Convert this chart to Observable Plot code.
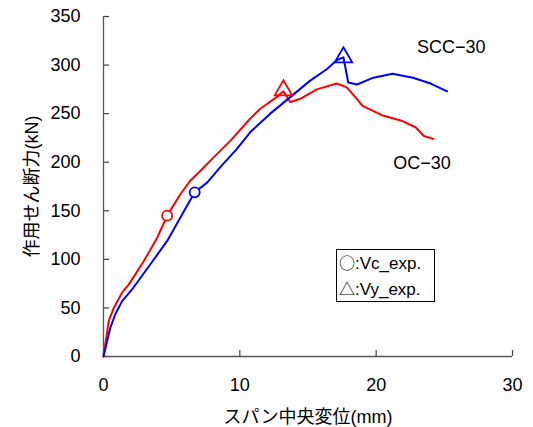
<!DOCTYPE html>
<html>
<head>
<meta charset="utf-8">
<script src="https://cdn.jsdelivr.net/npm/d3@7"></script>
<script src="https://cdn.jsdelivr.net/npm/@observablehq/plot@0.6"></script>
<style>
  html, body { margin: 0; padding: 0; background: #fff; }
  #wrap { position: relative; width: 533px; height: 427px; font-family: "Liberation Sans", "Noto Sans CJK JP", sans-serif; }
  #legend { position: absolute; left: 336px; top: 249px; width: 99px; height: 53px; border: 1.3px solid #000; box-sizing: border-box; font-size: 17px; line-height: 25px; padding-left: 2px; color: #000; }
  #legend div { white-space: nowrap; }
  #legend .sym { font-family: "Noto Sans CJK JP", sans-serif; font-size: 16px; }
</style>
</head>
<body>
<div id="wrap">
  <div id="chart"></div>
  <div id="legend"><div><span class="sym">○</span>:Vc_exp.</div><div><span class="sym">△</span>:Vy_exp.</div></div>
</div>
<script>
// SCC-30 (blue)
const sccX = [0, 0.51, 0.88, 1.37, 2.2, 3.44, 4.67, 5.64, 6.69, 7.6, 8.57, 9.8, 10.77, 12.23, 13.7, 15.16, 16.4, 17.1, 17.6, 17.95, 18.6, 19.8, 21.2, 22.7, 24.0, 25.2];
const sccY = [0, 30, 44, 57, 71, 95, 119, 143, 169, 179, 195, 214, 231, 250, 267, 284, 296, 305, 308, 282, 280, 287, 291, 287, 281, 273];
// OC-30 (red)
const ocX = [0, 0.39, 0.76, 1.37, 1.85, 2.95, 3.93, 4.67, 5.64, 6.37, 7.1, 8.08, 9.3, 10.77, 11.5, 12.7, 13.2, 13.7, 14.4, 15.65, 17.1, 17.85, 18.6, 19.0, 20.5, 21.8, 22.9, 23.5, 24.2];
const ocY = [0, 37, 50, 66, 74, 98, 122, 145, 167, 181, 191, 205, 222, 245, 255, 267, 273, 262, 265, 275, 281, 277, 265, 258, 248, 243, 236, 227, 224];
// Experimental points
const vcPoints = [{series: "OC-30", x: 4.67, y: 145}, {series: "SCC-30", x: 6.69, y: 169}];
const vyPoints = [{series: "OC-30", x: 13.2, y: 274}, {series: "SCC-30", x: 17.6, y: 308}];
// Tick labels
const xTicks = [0, 10, 20, 30];
const yTicks = [0, 50, 100, 150, 200, 250, 300, 350];
const seriesNames = ["SCC-30", "OC-30"];
const seriesColors = ["#0000ff", "#ff0000"];

const scc = sccX.map((x, i) => ({series: "SCC-30", x, y: sccY[i]}));
const oc = ocX.map((x, i) => ({series: "OC-30", x, y: ocY[i]}));

const W = 533, H = 427, ML = 103, MR = 21, MT = 16, MB = 71;
const tickLen = 6;
const font = "Liberation Sans, Noto Sans CJK JP, sans-serif";

const chart = Plot.plot({
  width: W,
  height: H,
  marginLeft: ML,
  marginRight: MR,
  marginTop: MT,
  marginBottom: MB,
  style: {fontFamily: font, fontSize: "18px", color: "#000", background: "#fff"},
  x: {domain: [0, 30]},
  y: {domain: [0, 350]},
  color: {domain: seriesNames, range: seriesColors},
  marks: [
    Plot.axisX({ticks: xTicks, tickSize: 0, tickPadding: 22, fontSize: 18, label: "スパン中央変位(mm)", labelAnchor: "center", labelArrow: "none", labelOffset: 66}),
    Plot.axisY({ticks: yTicks, tickSize: 0, tickPadding: 23, fontSize: 18, label: "作用せん断力(kN)", labelAnchor: "center", labelArrow: "none", labelOffset: 78}),
    Plot.tickX(xTicks, {x: d => d, insetTop: (H - MT - MB) - tickLen, stroke: "#444", strokeWidth: 1.2}),
    Plot.tickY(yTicks, {y: d => d, insetRight: (W - ML - MR) - tickLen, stroke: "#444", strokeWidth: 1.2}),
    Plot.ruleX([0], {stroke: "#555", strokeWidth: 1.3}),
    Plot.ruleY([0], {stroke: "#555", strokeWidth: 1.3}),
    Plot.line(oc, {x: "x", y: "y", stroke: "series", strokeWidth: 2}),
    Plot.line(scc, {x: "x", y: "y", stroke: "series", strokeWidth: 2}),
    Plot.dot(vcPoints, {x: "x", y: "y", stroke: "series", fill: "white", r: 5, strokeWidth: 1.8}),
    Plot.dot(vyPoints, {x: "x", y: "y", stroke: "series", fill: "none", symbol: "triangle", r: 6.5, strokeWidth: 1.8}),
    Plot.text(["SCC−30"], {x: 23.0, y: 318, text: d => d, textAnchor: "start", fontSize: 18, fill: "#000"}),
    Plot.text(["OC−30"], {x: 21.25, y: 198.5, text: d => d, textAnchor: "start", fontSize: 18, fill: "#000"})
  ]
});
document.getElementById("chart").appendChild(chart);
</script>
</body>
</html>
